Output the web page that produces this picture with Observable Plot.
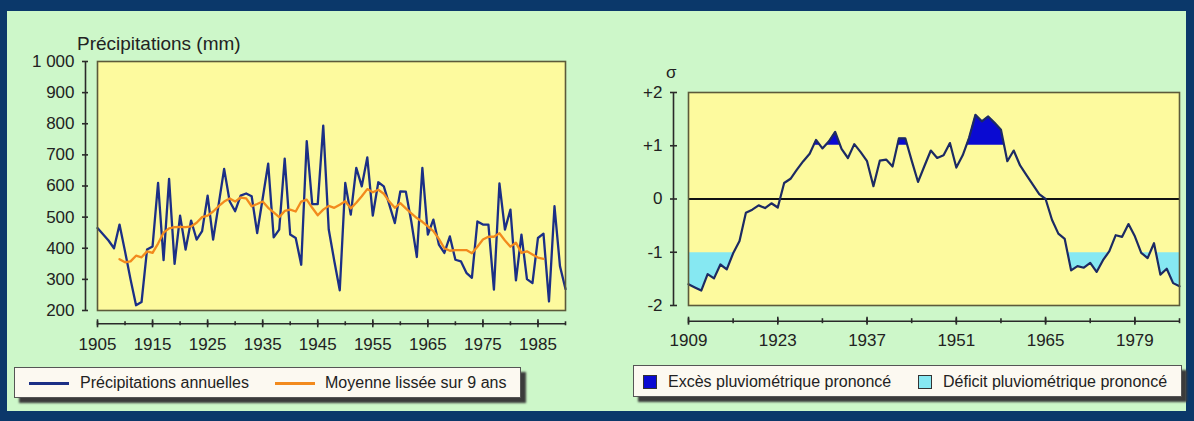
<!DOCTYPE html>
<html><head><meta charset="utf-8">
<script src="https://cdn.jsdelivr.net/npm/d3@7"></script>
<script src="https://cdn.jsdelivr.net/npm/@observablehq/plot@0.6"></script>
<style>
html,body{margin:0;padding:0;}
body{width:1194px;height:421px;background:#0b386a;position:relative;overflow:hidden;font-family:"Liberation Sans",Arial,sans-serif;color:#222;}
#panel{position:absolute;left:7px;top:11px;width:1179px;height:400px;background:#cdf7c9;}
.chart{position:absolute;top:0;}
.lbl{position:absolute;white-space:nowrap;color:#222;}
.legend{position:absolute;background:#fcf9f1;border:1px solid #555;box-shadow:5px 5px 2px #3b3b3b;}
.legend span{position:absolute;white-space:nowrap;font-size:16px;line-height:16px;}
.sw-line{position:absolute;height:3px;}
.sw-box{position:absolute;width:12px;height:12px;border:1px solid #333;}
</style></head>
<body>
<div id="panel"></div>
<div id="left" class="chart" style="left:0px"></div>
<div id="right" class="chart" style="left:600px"></div>
<div class="lbl" style="left:77px;top:33px;font-size:19px;">Précipitations (mm)</div>
<div class="lbl" style="left:666px;top:63px;font-size:17px;">σ</div>
<div class="legend" style="left:14px;top:367px;width:505px;height:29px;">
  <div class="sw-line" style="left:14px;top:14px;width:40px;background:#1b2f86;"></div>
  <span style="left:65px;top:7px;">Précipitations annuelles</span>
  <div class="sw-line" style="left:260px;top:14px;width:40px;background:#f28a1d;"></div>
  <span style="left:310px;top:7px;">Moyenne lissée sur 9 ans</span>
</div>
<div class="legend" style="left:633px;top:365px;width:547px;height:30px;">
  <div class="sw-box" style="left:9px;top:9px;background:#0a0ad2;"></div>
  <span style="left:34px;top:8px;">Excès pluviométrique prononcé</span>
  <div class="sw-box" style="left:284px;top:9px;background:#86e8f2;"></div>
  <span style="left:309px;top:8px;">Déficit pluviométrique prononcé</span>
</div>
<script>
// ---- Data ----
const annualStart = 1905;
const annualPrecip = [
  465, 445, 425, 400, 476, 390, 300, 217, 227, 396,
  406, 610, 362, 623, 350, 505, 396, 489, 428, 455,
  569, 428, 540, 655, 551, 519, 569, 576, 567, 449,
  560, 672, 435, 460, 688, 444, 433, 347, 744, 542,
  542, 794, 460, 360, 265, 610, 508, 658, 599, 692,
  505, 612, 599, 540, 481, 583, 582, 485, 372, 658,
  444, 492, 412, 385, 438, 363, 358, 321, 305, 486,
  476, 476, 267, 608, 460, 524, 297, 444, 301, 288,
  433, 447, 229, 535, 342, 269
];
const smoothStart = 1909;
const smoothPrecip = [
  365, 355, 358, 376, 371, 390, 385, 415, 450, 464,
  468, 469, 468, 470, 482, 500, 505, 518, 535, 550,
  560, 550, 563, 560, 535, 542, 550, 530, 515, 500,
  520, 524, 518, 550, 556, 530, 506, 524, 536, 530,
  540, 551, 528, 546, 567, 590, 580, 588, 575, 550,
  530, 545, 528, 512, 497, 485, 470, 455, 430, 400,
  392, 394, 394, 394, 384, 405, 428, 437, 437, 448,
  425, 405, 418, 385, 390, 380, 370, 366
];
const sigmaStart = 1909;
const sigmaIndex = [
  -1.60, -1.66, -1.72, -1.41, -1.49, -1.23, -1.32, -1.02, -0.79, -0.26,
  -0.20, -0.12, -0.17, -0.08, -0.16, 0.30, 0.38, 0.55, 0.71, 0.85,
  1.11, 0.95, 1.08, 1.26, 0.94, 0.77, 1.03, 0.88, 0.71, 0.24,
  0.72, 0.74, 0.61, 1.14, 1.14, 0.72, 0.32, 0.62, 0.91, 0.77,
  0.82, 1.05, 0.59, 0.82, 1.15, 1.58, 1.46, 1.55, 1.43, 1.30,
  0.71, 0.91, 0.63, 0.45, 0.27, 0.09, 0.00, -0.39, -0.65, -0.75,
  -1.34, -1.26, -1.29, -1.20, -1.37, -1.15, -0.98, -0.68, -0.71, -0.47,
  -0.70, -1.01, -1.11, -0.83, -1.42, -1.31, -1.58, -1.64
];
const leftXDomain = [1905, 1990];
const leftYDomain = [200, 1000];
const leftYTicks = [200, 300, 400, 500, 600, 700, 800, 900, 1000];
const leftXMajor = [1905, 1915, 1925, 1935, 1945, 1955, 1965, 1975, 1985];
const leftXMinor = [1905, 1910, 1915, 1920, 1925, 1930, 1935, 1940, 1945, 1950, 1955, 1960, 1965, 1970, 1975, 1980, 1985, 1990];
const rightXDomain = [1909, 1986];
const rightYDomain = [-2, 2];
const rightYTicks = [-2, -1, 0, 1, 2];
const rightXMajor = [1909, 1923, 1937, 1951, 1965, 1979];
const rightXMinor = [1909, 1916, 1923, 1930, 1937, 1944, 1951, 1958, 1965, 1972, 1979, 1986];
const excessThreshold = 1;
const deficitThreshold = -1;

const annual = annualPrecip.map((v, i) => ({year: annualStart + i, v}));
const smooth = smoothPrecip.map((v, i) => ({year: smoothStart + i, v}));
const sigma = sigmaIndex.map((v, i) => ({year: sigmaStart + i, v, hi: excessThreshold, lo: deficitThreshold}));

// ---- Styles ----
const YELLOW = "#fdfa9e";
const OLIVE = "#5c5a3a";
const AX = "#2a2a2a";
const FONT = "'Liberation Sans', Arial, sans-serif";
const baseStyle = {background: "transparent", fontFamily: FONT, fontSize: "17px", color: "#222", overflow: "visible"};

const left = Plot.plot({
  width: 600, height: 360,
  marginLeft: 97, marginRight: 35, marginTop: 61, marginBottom: 50,
  x: {domain: leftXDomain, label: null},
  y: {domain: leftYDomain, label: null},
  style: baseStyle,
  marks: [
    Plot.frame({fill: YELLOW, stroke: "none"}),
    Plot.lineY(annual, {x: "year", y: "v", stroke: "#1b2f86", strokeWidth: 2.3}),
    Plot.lineY(smooth, {x: "year", y: "v", stroke: "#f28a1d", strokeWidth: 2.3}),
    Plot.frame({stroke: OLIVE, strokeWidth: 1.6}),
    Plot.ruleX([leftXDomain[0]], {y1: leftYDomain[0], y2: leftYDomain[1], dx: -12, stroke: AX, strokeWidth: 1.6}),
    Plot.axisY({ticks: leftYTicks, label: null, tickFormat: d => d === 1000 ? "1 000" : String(d), tickSize: 6, dx: -9, tickPadding: 8, stroke: AX, strokeWidth: 1.6, fontSize: 17}),
    Plot.ruleY([leftYDomain[0]], {x1: leftXDomain[0], x2: leftXDomain[1], dy: 13.3, stroke: AX, strokeWidth: 1.6}),
    Plot.axisX({ticks: leftXMinor, label: null, tickFormat: () => "", tickSize: 4, dy: 11.3, stroke: AX, strokeWidth: 1.6}),
    Plot.axisX({ticks: leftXMajor, label: null, tickFormat: d => String(d), tickSize: 8, dy: 9.3, tickPadding: 10, stroke: AX, strokeWidth: 1.6, fontSize: 17})
  ]
});
document.getElementById("left").appendChild(left);

const right = Plot.plot({
  width: 594, height: 360,
  marginLeft: 88, marginRight: 15, marginTop: 92, marginBottom: 55,
  x: {domain: rightXDomain, label: null},
  y: {domain: rightYDomain, label: null},
  style: baseStyle,
  marks: [
    Plot.frame({fill: YELLOW, stroke: "none"}),
    Plot.areaY(sigma, {x: "year", y1: "hi", y2: "v", fill: "#0a0ad2"}),
    Plot.areaY(sigma, {x: "year", y1: "lo", y2: "v", fill: "#86e8f2"}),
    Plot.ruleY([0], {stroke: "#111", strokeWidth: 2}),
    Plot.lineY(sigma, {x: "year", y: "v", stroke: "#1c2a63", strokeWidth: 2.2}),
    Plot.frame({stroke: OLIVE, strokeWidth: 1.6}),
    Plot.ruleX([rightXDomain[0]], {y1: rightYDomain[0], y2: rightYDomain[1], dx: -15, stroke: AX, strokeWidth: 1.6}),
    Plot.axisY({ticks: rightYTicks, label: null, tickFormat: d => d > 0 ? "+" + d : String(d), tickSize: 7, dx: -11, tickPadding: 8, stroke: AX, strokeWidth: 1.6, fontSize: 17}),
    Plot.ruleY([rightYDomain[0]], {x1: rightXDomain[0], x2: rightXDomain[1], dy: 15.7, stroke: AX, strokeWidth: 1.6}),
    Plot.axisX({ticks: rightXMinor, label: null, tickFormat: () => "", tickSize: 5, dy: 13.2, stroke: AX, strokeWidth: 1.6}),
    Plot.axisX({ticks: rightXMajor, label: null, tickFormat: d => String(d), tickSize: 8, dy: 11.7, tickPadding: 9, stroke: AX, strokeWidth: 1.6, fontSize: 17})
  ]
});
document.getElementById("right").appendChild(right);

// Clip the two fills to the zones beyond the ±1 thresholds, using the plot's y scale
const ys = right.scale("y");
const yUp = ys.apply(excessThreshold) - 0.6, yDown = ys.apply(deficitThreshold) + 0.6;
const svgR = d3.select(right);
const defs = svgR.insert("defs", ":first-child");
defs.append("clipPath").attr("id", "clipExcess").append("rect")
  .attr("x", 0).attr("y", 0).attr("width", 594).attr("height", yUp);
defs.append("clipPath").attr("id", "clipDeficit").append("rect")
  .attr("x", 0).attr("y", yDown).attr("width", 594).attr("height", 360 - yDown);
const areas = right.querySelectorAll('g[aria-label="area"]');
if (areas[0]) areas[0].setAttribute("clip-path", "url(#clipExcess)");
if (areas[1]) areas[1].setAttribute("clip-path", "url(#clipDeficit)");
</script>
</body></html>
